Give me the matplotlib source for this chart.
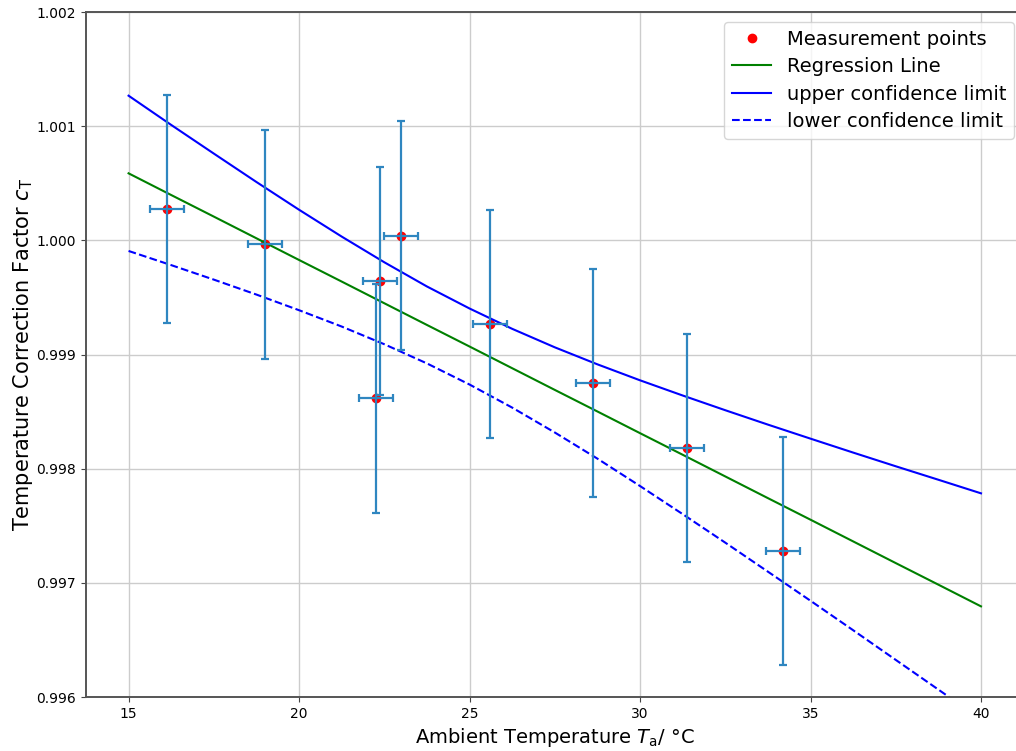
import numpy as np
import matplotlib.pyplot as plt

# measured correction factors vs ambient temperature
temp = [16.12, 18.99, 22.25, 22.37, 23.00, 25.61, 28.62, 31.37, 34.19]
c_t = [1.000272, 0.999965, 0.998616, 0.999644, 1.000041, 0.999265, 0.998753, 0.998181, 0.997276]
temp_err = [0.5] * 9
c_t_err = [0.001] * 9

# regression line and confidence limits
fit_x = [15.0, 16.25, 17.5, 18.75, 20.0, 21.25, 22.5, 23.75, 25.0, 26.25, 27.5,
         28.75, 30.0, 31.25, 32.5, 33.75, 35.0, 36.25, 37.5, 38.75, 40.0]
fit_y = [1.000587, 1.000397, 1.000208, 1.000018, 0.999828, 0.999639, 0.999449,
         0.999259, 0.999070, 0.998880, 0.998690, 0.998501, 0.998311, 0.998122,
         0.997932, 0.997742, 0.997553, 0.997363, 0.997173, 0.996984, 0.996794]
upper = [1.001267, 1.001011, 1.000760, 1.000511, 1.000268, 1.000033, 0.999808,
         0.999596, 0.999403, 0.999225, 0.999063, 0.998914, 0.998774, 0.998641,
         0.998512, 0.998386, 0.998263, 0.998141, 0.998021, 0.997903, 0.997784]
lower = [0.999907, 0.999783, 0.999656, 0.999525, 0.999388, 0.999245, 0.999090,
         0.998922, 0.998737, 0.998535, 0.998317, 0.998088, 0.997848, 0.997602,
         0.997352, 0.997098, 0.996843, 0.996585, 0.996325, 0.996065, 0.995804]

fig = plt.figure(figsize=(10.16, 7.51), dpi=100)
ax = fig.add_axes([0.0846, 0.0719, 0.9229, 0.9121])

ax.plot(temp, c_t, 'o', color='red', markersize=6, label='Measurement points', zorder=2)
ax.errorbar(temp, c_t, xerr=temp_err, yerr=c_t_err, fmt='none', ecolor='#2f86c0',
            elinewidth=1.6, capsize=3, capthick=1.6, zorder=3)
ax.plot(fit_x, fit_y, color='g', lw=1.5, label='Regression Line')
ax.plot(fit_x, upper, color='b', lw=1.5, label='upper confidence limit')
ax.plot(fit_x, lower, 'b--', lw=1.5, label='lower confidence limit')

ax.set_xlim(13.75, 41.25)
ax.set_ylim(0.996, 1.002)
ax.set_xticks([15, 20, 25, 30, 35, 40])
ax.set_yticks(np.arange(0.996, 1.0021, 0.001))
ax.yaxis.set_major_formatter(plt.FormatStrFormatter('%.3f'))
ax.tick_params(labelsize=10, color='#444444')
ax.grid(True, color='#cccccc', lw=1)
ax.set_axisbelow(True)
for s in ax.spines.values():
    s.set_color('#555555')
    s.set_linewidth(1.4)

ax.set_xlabel(r'Ambient Temperature $T_\mathrm{a}$/ °C', fontsize=14)
ax.set_ylabel(r'Temperature Correction Factor $c_\mathrm{T}$', fontsize=15, labelpad=1)
ax.legend(loc='upper right', fontsize=14, labelspacing=0.44)

fig.savefig('out.png', dpi=100)
